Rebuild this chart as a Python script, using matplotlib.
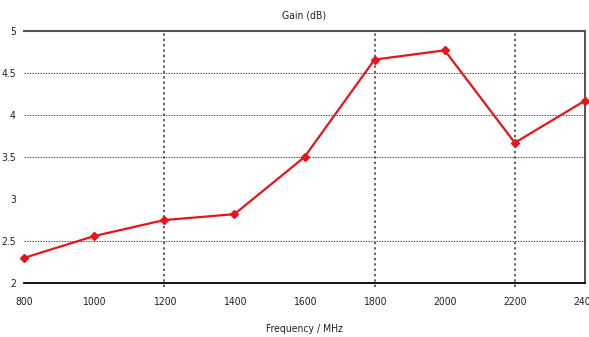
import matplotlib
matplotlib.use("Agg")
import matplotlib.pyplot as plt

freq = [800, 1000, 1200, 1400, 1600, 1800, 2000, 2200, 2400]
gain = [2.30, 2.56, 2.75, 2.82, 3.50, 4.66, 4.77, 3.67, 4.17]
xticks = [800, 1000, 1200, 1400, 1600, 1800, 2000, 2200, 2400]
yticks = [2, 2.5, 3, 3.5, 4, 4.5, 5]
ytick_labels = ["2", "2.5", "3", "3.5", "4", "4.5", "5"]
vgrid = [1200, 1800, 2200]
hgrid = [2.5, 3.5, 4, 4.5]

fig = plt.figure(figsize=(5.89, 3.37), dpi=100)
ax = fig.add_axes([0.041, 0.160, 0.952, 0.748])

for v in vgrid:
    ax.axvline(v, ymin=-0.015, ymax=1, color="#333333", linestyle=(0, (1.5, 2)),
               linewidth=1.1, zorder=1, clip_on=False)
for h in hgrid:
    ax.axhline(h, color="#444444", linestyle=(0, (1.2, 1.2)), linewidth=0.8, zorder=1)

ax.plot(freq, gain, color="#e8141c", linewidth=1.6, marker="D", markersize=4,
        markerfacecolor="#e8141c", markeredgecolor="#e8141c", zorder=3, clip_on=False)

ax.set_xlim(800, 2400)
ax.set_ylim(2, 5)
ax.set_xticks(xticks)
ax.set_xticklabels([str(x) for x in xticks])
ax.set_yticks(yticks)
ax.set_yticklabels(ytick_labels)

ax.spines["left"].set_visible(False)
ax.spines["top"].set_color("#555555")
ax.spines["top"].set_linewidth(1.5)
ax.spines["bottom"].set_color("black")
ax.spines["bottom"].set_linewidth(1.3)
ax.spines["right"].set_color("#333333")
ax.spines["right"].set_linewidth(1.2)

ax.tick_params(axis="y", length=0, pad=6, labelsize=7.5)
ax.tick_params(axis="x", length=0, pad=10, labelsize=7.5)
for lab in ax.get_xticklabels() + ax.get_yticklabels():
    lab.set_fontstretch("condensed")
    lab.set_color("#222222")

ax.set_title("Gain (dB)", fontsize=7.5, pad=9, fontstretch="condensed", color="#222222")
ax.set_xlabel("Frequency / MHz", fontsize=7.5, labelpad=12, fontstretch="condensed", color="#222222")

fig.savefig("out.png", dpi=100)
